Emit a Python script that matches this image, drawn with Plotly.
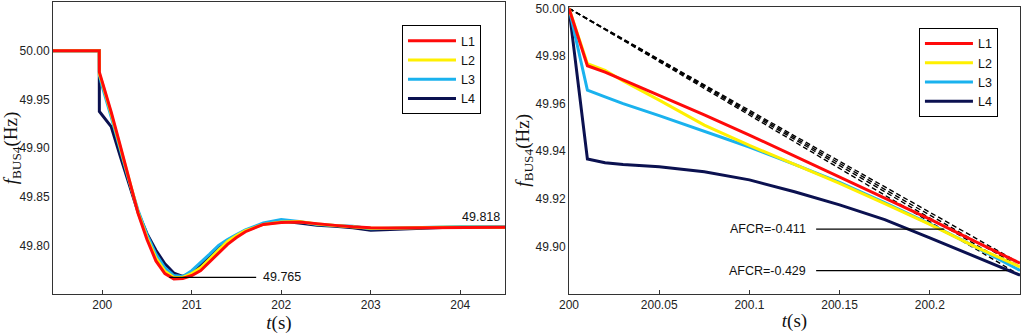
import plotly.graph_objects as go

# ---------------- Left panel data (t in s, f in Hz) ----------------
t_left = [199.45, 199.967, 199.968, 200.0, 200.1, 200.2, 200.3, 200.4, 200.5, 200.6,
          200.7, 200.8, 200.9, 201.0, 201.1, 201.2, 201.3, 201.4, 201.5, 201.6,
          201.8, 202.0, 202.2, 202.4, 202.6, 202.8, 203.0, 203.2, 203.4, 203.6,
          203.8, 204.0, 204.2, 204.5]
L1_left = [50.0, 50.0, 49.978, 49.968, 49.937, 49.903, 49.867, 49.833, 49.806, 49.784,
           49.771, 49.7655, 49.766, 49.769, 49.774, 49.783, 49.792, 49.801, 49.808, 49.814,
           49.8215, 49.8235, 49.824, 49.822, 49.8205, 49.819, 49.818, 49.8178, 49.818, 49.818,
           49.8182, 49.8183, 49.8183, 49.8185]
L2_left = [50.0, 50.0, 49.976, 49.967, 49.935, 49.901, 49.866, 49.834, 49.808, 49.787,
           49.7735, 49.767, 49.767, 49.771, 49.777, 49.786, 49.796, 49.804, 49.810, 49.815,
           49.8215, 49.824, 49.8245, 49.822, 49.8205, 49.819, 49.8175, 49.8175, 49.818, 49.8183,
           49.8185, 49.8185, 49.8185, 49.8185]
L3_left = [50.0, 50.0, 49.975, 49.963, 49.932, 49.899, 49.866, 49.836, 49.811, 49.791,
           49.777, 49.769, 49.768, 49.774, 49.782, 49.791, 49.800, 49.806, 49.811, 49.816,
           49.823, 49.8265, 49.8245, 49.8215, 49.8205, 49.8195, 49.817, 49.8175, 49.8185, 49.819,
           49.8188, 49.819, 49.819, 49.819]
L4_left = [50.0, 50.0, 49.9375, 49.934, 49.922, 49.892, 49.862, 49.834, 49.812, 49.795,
           49.781, 49.7715, 49.768, 49.772, 49.780, 49.790, 49.799, 49.805, 49.810, 49.815,
           49.822, 49.825, 49.823, 49.8205, 49.8195, 49.818, 49.8155, 49.8162, 49.8175, 49.818,
           49.8182, 49.8185, 49.8185, 49.8185]

# ---------------- Right panel data ----------------
t_right = [200.0, 200.0102, 200.02, 200.03, 200.05, 200.075, 200.1, 200.125, 200.15,
           200.175, 200.2, 200.225, 200.25]
L1_right = [50.0, 49.9759, 49.9732, 49.9700, 49.9635, 49.9553, 49.9468, 49.938, 49.929,
            49.9203, 49.9115, 49.9022, 49.893]
L2_right = [50.0, 49.9768, 49.9740, 49.9695, 49.9615, 49.951, 49.9425, 49.9345, 49.9265,
            49.918, 49.9093, 49.900, 49.8915]
L3_right = [50.0, 49.9657, 49.9628, 49.9600, 49.955, 49.9485, 49.9418, 49.9345, 49.927,
            49.9185, 49.9095, 49.900, 49.890]
L4_right = [50.0, 49.9368, 49.9352, 49.9345, 49.9335, 49.9314, 49.928, 49.923, 49.9175,
            49.9113, 49.9037, 49.896, 49.888]

names = ["L1", "L2", "L3", "L4"]
colors = ["#FF0A0A", "#FFF000", "#1AB2EE", "#0B1150"]

# annotation values
min_label = "49.765"
min_level = 49.767
min_line_t = [200.75, 201.72]
final_label = "49.818"
afcr_labels = ["AFCR=-0.411", "AFCR=-0.429"]
afcr_levels = [49.9073, 49.8899]
afcr_line_end = [200.208, 200.243]
afcr_line_start = 200.137

left_series = [L1_left, L2_left, L3_left, L4_left]
right_series = [L1_right, L2_right, L3_right, L4_right]

fig = go.Figure()

# left panel: draw L4 first so L1 ends on top
for i in [3, 2, 1, 0]:
    fig.add_trace(go.Scatter(x=t_left, y=left_series[i], mode="lines", name=names[i],
                             line=dict(color=colors[i], width=3),
                             xaxis="x", yaxis="y", legend="legend"))

# right panel dashed secant lines
for i in [3, 2, 1, 0]:
    s = right_series[i]
    fig.add_trace(go.Scatter(x=[t_right[0], t_right[-1]], y=[s[0], s[-1]], mode="lines",
                             line=dict(color="black", width=1.4, dash="5px,3px"),
                             showlegend=False, xaxis="x2", yaxis="y2", hoverinfo="skip"))

for i in [3, 2, 1, 0]:
    fig.add_trace(go.Scatter(x=t_right, y=right_series[i], mode="lines", name=names[i],
                             line=dict(color=colors[i], width=3),
                             xaxis="x2", yaxis="y2", legend="legend2"))

# annotation lines
fig.add_trace(go.Scatter(x=min_line_t, y=[min_level, min_level], mode="lines",
                         line=dict(color="black", width=1.2), showlegend=False,
                         xaxis="x", yaxis="y", hoverinfo="skip"))
for lvl, end in zip(afcr_levels, afcr_line_end):
    fig.add_trace(go.Scatter(x=[afcr_line_start, end], y=[lvl, lvl], mode="lines",
                             line=dict(color="black", width=1.2), showlegend=False,
                             xaxis="x2", yaxis="y2", hoverinfo="skip"))

txt_font = dict(family="Arial, Liberation Sans", size=12.5, color="#111")
annotations = [
    dict(x=min_line_t[1] + 0.05, y=min_level, xref="x", yref="y", text=min_label,
         showarrow=False, xanchor="left", yanchor="middle", font=txt_font),
    dict(x=204.47, y=49.8287, xref="x", yref="y", text=final_label,
         showarrow=False, xanchor="right", yanchor="middle", font=txt_font),
]
for lab, lvl in zip(afcr_labels, afcr_levels):
    annotations.append(dict(x=afcr_line_start - 0.0045, y=lvl, xref="x2", yref="y2", text=lab,
                            showarrow=False, xanchor="right", yanchor="middle", font=txt_font))

tick_font = dict(family="Arial, Liberation Sans", size=12, color="#222")
title_font = dict(family="Liberation Serif, Times New Roman", size=19, color="#111")

axis_common = dict(showline=True, mirror=True, linecolor="#333", linewidth=1,
                   showgrid=False, zeroline=False, tickfont=tick_font, automargin=False)

legend_font = dict(family="Arial, Liberation Sans", size=12.5, color="#111")

fig.update_layout(
    width=1024, height=336,
    margin=dict(l=53, r=4, t=2, b=42, autoexpand=False),
    paper_bgcolor="white", plot_bgcolor="white",
    showlegend=True,
    annotations=annotations,
    xaxis=dict(domain=[0, 0.4674], range=[199.45, 204.5], tickvals=[200, 201, 202, 203, 204],
               ticktext=["200", "201", "202", "203", "204"], ticks="inside", ticklen=4,
               tickcolor="#333", anchor="y",
               title=dict(text="<i>t</i>(s)", font=title_font, standoff=2), **axis_common),
    yaxis=dict(domain=[0, 1], range=[49.75, 50.05], tickvals=[49.80, 49.85, 49.90, 49.95, 50.00],
               tickformat=".2f", ticks="", anchor="x",
               title=dict(text="<i>f</i><sub>BUS4</sub>(Hz)", font=title_font, standoff=6),
               **axis_common),
    xaxis2=dict(domain=[0.5336, 1], range=[200, 200.25],
                tickvals=[200, 200.05, 200.1, 200.15, 200.2],
                ticktext=["200", "200.05", "200.1", "200.15", "200.2"], ticks="inside", ticklen=4,
                tickcolor="#333", anchor="y2",
                title=dict(text="<i>t</i>(s)", font=title_font, standoff=2), **axis_common),
    yaxis2=dict(domain=[0, 0.984], range=[49.8801, 50.0007],
                tickvals=[49.90, 49.92, 49.94, 49.96, 49.98, 50.00],
                tickformat=".2f", ticks="", anchor="x2",
                title=dict(text="<i>f</i><sub>BUS4</sub>(Hz)", font=title_font, standoff=0),
                **axis_common),
    legend=dict(x=0.3609, y=0.921, xanchor="left", yanchor="top", traceorder="reversed",
                bgcolor="white", bordercolor="black", borderwidth=1,
                font=legend_font, tracegroupgap=0, itemwidth=48),
    legend2=dict(x=0.8955, y=0.911, xanchor="left", yanchor="top", traceorder="reversed",
                 bgcolor="white", bordercolor="black", borderwidth=1,
                 font=legend_font, tracegroupgap=0, itemwidth=48),
)

fig.write_html("out.html", config={"displayModeBar": False},
               post_script="document.body.style.margin='0';")
